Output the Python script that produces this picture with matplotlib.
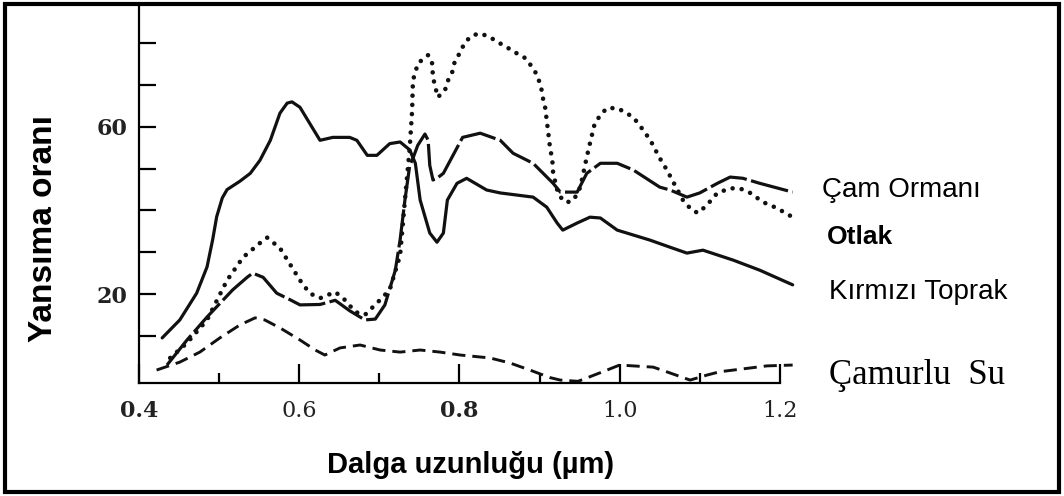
import matplotlib
matplotlib.use("Agg")
import matplotlib.pyplot as plt
from matplotlib.patches import Rectangle

# ==========================
# DATA
# ==========================

# Kırmızı Toprak (solid)
toprak_x = [0.429, 0.451, 0.472, 0.485, 0.492, 0.497, 0.504, 0.510, 0.526, 0.539,
            0.551, 0.564, 0.576, 0.585, 0.591, 0.601, 0.613, 0.626, 0.642, 0.663,
            0.672, 0.685, 0.697, 0.713, 0.726, 0.738, 0.745, 0.751, 0.763, 0.772,
            0.780, 0.785, 0.797, 0.809, 0.834, 0.851, 0.892, 0.909, 0.922, 0.929,
            0.947, 0.963, 0.976, 0.997, 1.038, 1.063, 1.084, 1.104, 1.142, 1.175,
            1.216]
toprak_y = [9.5, 13.8, 20.2, 26.5, 33.0, 38.5, 43.0, 45.0, 47.0, 48.9,
            52.0, 56.8, 63.3, 65.7, 66.0, 64.7, 60.9, 56.8, 57.5, 57.5,
            56.8, 53.2, 53.2, 56.0, 56.4, 54.5, 51.3, 42.5, 34.6, 32.4,
            34.6, 42.5, 46.5, 47.7, 44.9, 44.2, 43.2, 40.8, 37.0, 35.3,
            37.0, 38.4, 38.2, 35.3, 32.9, 31.2, 29.8, 30.5, 28.1, 25.7,
            22.2]

# Çam Ormanı (long dash)
cam_x = [0.435, 0.460, 0.485, 0.517, 0.535, 0.542, 0.555, 0.572, 0.589, 0.601,
         0.626, 0.645, 0.663, 0.682, 0.695, 0.707, 0.720, 0.726, 0.732, 0.738,
         0.742, 0.748, 0.757, 0.761, 0.763, 0.767, 0.772, 0.780, 0.792, 0.804,
         0.826, 0.851, 0.867, 0.892, 0.917, 0.926, 0.947, 0.959, 0.976, 0.997,
         1.017, 1.050, 1.063, 1.084, 1.100, 1.122, 1.138, 1.154, 1.175, 1.216]
cam_y = [3.0, 9.0, 14.5, 21.0, 24.0, 25.0, 24.0, 20.2, 18.6, 17.4,
         17.5, 18.5, 16.0, 13.8, 14.0, 17.4, 25.7, 33.0, 42.5, 50.8,
         52.5, 55.6, 58.3, 56.8, 50.8, 47.3, 47.7, 48.9, 53.2, 57.5,
         58.5, 56.8, 53.7, 51.3, 46.5, 44.4, 44.4, 48.9, 51.3, 51.3,
         49.7, 45.6, 44.9, 43.2, 44.2, 46.5, 48.0, 47.7, 46.5, 44.4]

# Otlak (dotted)
otlak_x = [0.439, 0.460, 0.485, 0.510, 0.530, 0.551, 0.560, 0.576, 0.601, 0.613,
           0.626, 0.645, 0.657, 0.670, 0.682, 0.701, 0.713, 0.726, 0.732, 0.738,
           0.741, 0.742, 0.745, 0.748, 0.761, 0.766, 0.767, 0.770, 0.773, 0.782,
           0.786, 0.791, 0.794, 0.801, 0.807, 0.816, 0.826, 0.838, 0.848, 0.859,
           0.869, 0.882, 0.891, 0.897, 0.902, 0.904, 0.907, 0.909, 0.911, 0.913,
           0.916, 0.917, 0.922, 0.929, 0.938, 0.944, 0.951, 0.959, 0.963, 0.966,
           0.969, 0.976, 0.984, 0.997, 1.007, 1.017, 1.025, 1.034, 1.042, 1.048,
           1.059, 1.067, 1.079, 1.090, 1.098, 1.109, 1.122, 1.138, 1.150, 1.163,
           1.179, 1.196, 1.216]
otlak_y = [4.7, 8.3, 13.8, 23.3, 28.8, 32.2, 33.5, 31.0, 23.3, 20.2,
           19.0, 20.5, 18.6, 15.7, 15.0, 18.6, 21.0, 29.3, 42.5, 55.0,
           64.0, 71.2, 73.0, 75.2, 77.2, 75.2, 71.9, 69.5, 67.1, 68.8,
           71.2, 73.1, 75.5, 77.9, 80.3, 81.9, 82.4, 81.5, 80.3, 79.1,
           77.9, 76.5, 74.3, 72.4, 69.5, 67.1, 64.7, 61.6, 58.5, 55.2,
           52.0, 48.9, 45.0, 42.3, 42.0, 43.0, 45.6, 52.8, 56.1, 58.5,
           60.9, 62.8, 64.5, 64.5, 63.5, 62.3, 60.4, 58.0, 55.6, 53.2,
           49.7, 46.8, 42.5, 40.1, 39.4, 41.3, 44.2, 45.3, 45.3, 44.2,
           42.0, 40.6, 38.4]

# Çamurlu Su (short dash)
su_x = [0.422, 0.451, 0.476, 0.501, 0.526, 0.545, 0.557, 0.576, 0.601, 0.620,
        0.632, 0.651, 0.676, 0.701, 0.726, 0.751, 0.776, 0.801, 0.838, 0.863,
        0.888, 0.913, 0.926, 0.948, 0.979, 1.000, 1.042, 1.063, 1.088, 1.109,
        1.125, 1.142, 1.184, 1.216]
su_y = [1.8, 3.7, 6.1, 9.5, 12.6, 14.3, 13.8, 11.9, 9.0, 6.6,
        5.4, 7.1, 7.8, 6.6, 6.1, 6.6, 6.1, 5.4, 4.7, 3.5,
        1.8, 0.0, -0.6, -0.9, 1.4, 3.0, 2.5, 1.1, -0.6, 0.6,
        1.4, 1.8, 2.8, 3.0]

x_major = [0.4, 0.6, 0.8, 1.0, 1.2]
x_labels = ["0.4", "0.6", "0.8", "1.0", "1.2"]
x_weights = ["bold", "normal", "bold", "normal", "normal"]
x_minor = [0.5, 0.7, 0.9, 1.1]
y_ticks = [10, 20, 30, 40, 50, 60, 70, 80]
y_labels = ["", "20", "", "", "", "60", "", ""]

# ==========================
# FIGURE
# ==========================

fig = plt.figure(figsize=(10.64, 4.96), dpi=100)
ax = fig.add_axes([0.1306, 0.2278, 0.6174, 0.758])

ink = "#111111"
ax.plot(toprak_x, toprak_y, color=ink, lw=2.3, solid_joinstyle="round",
        solid_capstyle="round", clip_on=False)
ax.plot(cam_x, cam_y, color=ink, lw=2.3, dashes=(12, 1.4),
        dash_capstyle="butt", dash_joinstyle="round", clip_on=False)
ax.plot(otlak_x, otlak_y, color=ink, lw=3.3, linestyle=(0, (0.01, 2.0)),
        dash_capstyle="round", clip_on=False)
ax.plot(su_x, su_y, color=ink, lw=2.1, dashes=(4.5, 2.4), clip_on=False)

ax.set_xlim(0.4, 1.22)
ax.set_ylim(-1.3, 88.7)

ax.spines["top"].set_visible(False)
ax.spines["right"].set_visible(False)
ax.spines["left"].set_linewidth(1.6)
ax.spines["bottom"].set_linewidth(1.6)
ax.spines["bottom"].set_bounds(0.4, 1.2)

ax.set_xticks(x_major)
ax.set_xticklabels(x_labels, fontfamily="DejaVu Serif", fontsize=16, color="#222222")
for lab, w in zip(ax.get_xticklabels(), x_weights):
    lab.set_fontweight(w)
ax.set_xticks(x_minor, minor=True)
ax.set_yticks(y_ticks)
ax.set_yticklabels(y_labels, fontfamily="DejaVu Serif", fontsize=16,
                   fontweight="bold", color="#222222")

ax.tick_params(axis="x", which="major", direction="in", length=14, width=1.6, pad=12)
ax.tick_params(axis="x", which="minor", direction="in", length=7, width=1.6)
ax.tick_params(axis="y", direction="in", length=12, width=1.6, pad=8)

# eksen başlıkları
fig.text(0.041, 0.54, "Yansıma oranı", rotation=90, ha="center", va="center",
         fontfamily="Liberation Sans", fontweight="bold", fontsize=24)
fig.text(0.442, 0.0625, "Dalga uzunluğu (µm)", ha="center", va="center",
         fontfamily="Liberation Sans", fontweight="bold", fontsize=21)

# eğri isimleri
fig.text(0.7726, 0.617, "Çam Ormanı", ha="left", va="center",
         fontfamily="Liberation Sans", fontsize=20)
fig.text(0.777, 0.522, "Otlak", ha="left", va="center",
         fontfamily="Liberation Sans", fontweight="bold", fontsize=19)
fig.text(0.779, 0.412, "Kırmızı Toprak", ha="left", va="center",
         fontfamily="Liberation Sans", fontsize=20)
fig.text(0.779, 0.243, "Çamurlu  Su", ha="left", va="center",
         fontfamily="Liberation Serif", fontsize=25)

# çerçeve
fig.patches.append(Rectangle((0.0045, 0.008), 0.991, 0.983, transform=fig.transFigure,
                             fill=False, lw=3, edgecolor="black"))

fig.savefig("out.png", dpi=100)
